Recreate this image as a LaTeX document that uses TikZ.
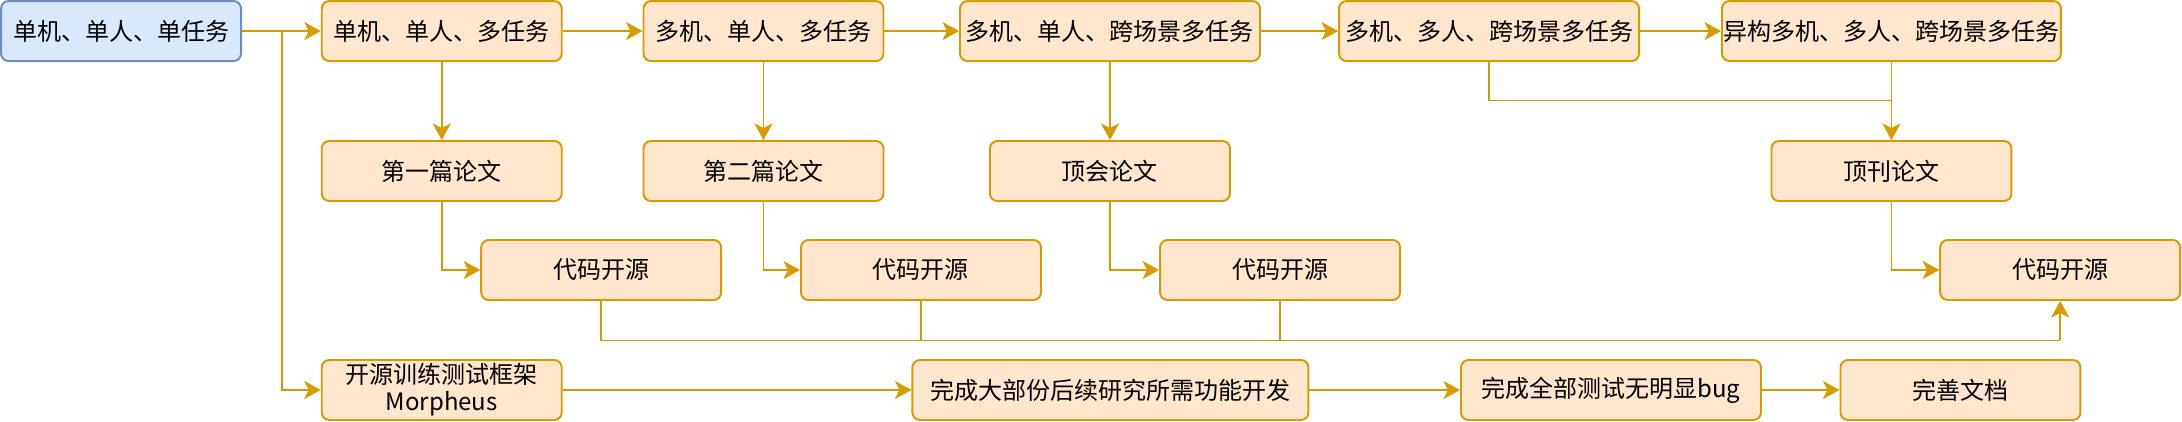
\documentclass[tikz,border=0pt]{standalone}
\usepackage{fontspec}
\newfontfamily\cjk{Noto Sans CJK SC}
\usetikzlibrary{arrows.meta}
\definecolor{ofill}{HTML}{FFE6CC}
\definecolor{oline}{HTML}{D79B00}
\definecolor{bfill}{HTML}{DAE8FC}
\definecolor{bline}{HTML}{6C8EBF}

\begin{document}
\begin{tikzpicture}[x=1pt, y=-1pt,
  box/.style={draw=oline, fill=ofill, line width=1.3pt, rounded corners=5pt,
    minimum height=40pt, minimum width=160pt, inner sep=1pt, align=center,
    font=\cjk\fontsize{16}{18}\selectfont},
  start/.style={box, draw=bline, fill=bfill},
  wire/.style={draw=oline, line width=1.2pt},
  link/.style={wire, -{Stealth[length=11pt, width=12pt, inset=3pt]}}]
\useasboundingbox (0,0) rectangle (1454.7,281.3);
\node [start] (a) at (80.7,20.7) {单机、单人、单任务};
\node [box] (b) at (294.5,20.7) {单机、单人、多任务};
\node [box] (c) at (509,20.7) {多机、单人、多任务};
\node [box, minimum width=200pt] (d) at (740,20.7) {多机、单人、跨场景多任务};
\node [box, minimum width=200pt] (e) at (992.7,20.7) {多机、多人、跨场景多任务};
\node [box, minimum width=226pt] (f) at (1261,20.7) {异构多机、多人、跨场景多任务};
\node [box] (p1) at (294.5,114) {第一篇论文};
\node [box] (p2) at (509,114) {第二篇论文};
\node [box] (p3) at (740,114) {顶会论文};
\node [box] (p4) at (1261,114) {顶刊论文};
\node [box] (c1) at (400.8,180) {代码开源};
\node [box] (c2) at (614,180) {代码开源};
\node [box] (c3) at (853.4,180) {代码开源};
\node [box] (c4) at (1373.5,180) {代码开源};
\node [box] (m) at (294.5,260) {开源训练测试框架\\Morpheus};
\node [box, minimum width=264pt] (n) at (740.3,260) {完成大部份后续研究所需功能开发};
\node [box, minimum width=200pt] (q) at (1074,260) {完成全部测试无明显bug};
\node [box] (r) at (1307,260) {完善文档};
\coordinate (split) at (188,20.7);
\coordinate (join) at (1261,67);
\coordinate (bus) at (1373.5,227);
\draw [link] (a) -- (b);
\draw [link] (b) -- (c);
\draw [link] (c) -- (d);
\draw [link] (d) -- (e);
\draw [link] (e) -- (f);
\draw [link] (split) |- (m);
\draw [link] (b) -- (p1);
\draw [link] (c) -- (p2);
\draw [link] (d) -- (p3);
\draw [wire] (e) |- (join);
\draw [link] (f) -- (p4);
\draw [link] (p1) |- (c1);
\draw [link] (p2) |- (c2);
\draw [link] (p3) |- (c3);
\draw [link] (p4) |- (c4);
\draw [wire] (c1) |- (bus);
\draw [wire] (c2) -- (c2 |- bus);
\draw [wire] (c3) -- (c3 |- bus);
\draw [link] (bus) -- (c4);
\draw [link] (m) -- (n);
\draw [link] (n) -- (q);
\draw [link] (q) -- (r);
\end{tikzpicture}
\end{document}
